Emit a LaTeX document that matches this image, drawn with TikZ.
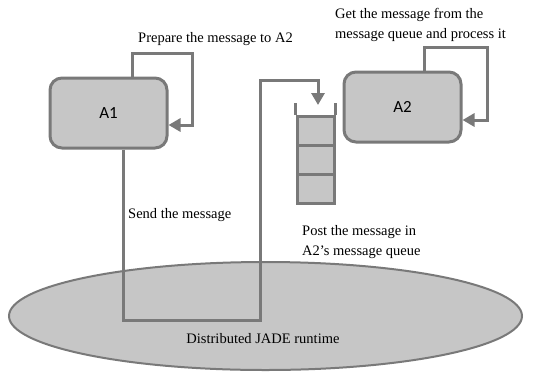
\documentclass[tikz,border=0pt]{standalone}
\usepackage{fontspec}
\setmainfont{Liberation Serif}
\newfontfamily\agentfont{Carlito}
\usetikzlibrary{arrows.meta,positioning,shapes.geometric,calc}

\begin{document}
\begin{tikzpicture}[x=1pt, y=-1pt,
    agent/.style={draw=gray!95!black, fill=gray!45, line width=3pt, rounded corners=12pt,
                  minimum width=117pt, minimum height=70pt, font=\agentfont\fontsize{17}{19}\selectfont},
    slot/.style={draw=gray!95!black, fill=gray!45, line width=3pt,
                 minimum width=37pt, minimum height=29pt, inner sep=0pt},
    conn/.style={draw=gray!95!black, line width=3pt},
    tip/.style={-{Triangle[length=12pt, width=13pt]}},
    note/.style={font=\fontsize{14.5}{20}\selectfont, align=left, inner sep=0pt}]
  \useasboundingbox (0,0) rectangle (536,373);

  % --- Runtime platform (drawn first, links run over it) ---
  \node[ellipse, draw=gray!95!black, fill=gray!45, line width=2pt,
        minimum width=513pt, minimum height=108pt] (runtime) at (265.5,316) {};
  \node[note] (rtlabel) at (263,339) {Distributed JADE runtime};

  % --- Agents ---
  \node[agent] (A1) at (108.5,113) {A1};
  \node[agent] (A2) at (402.5,107) {A2};

  % --- Message queue of A2 ---
  \node[slot] (q1) at (315.5,130.5) {};
  \node[slot, below=-3pt of q1] (q2) {};
  \node[slot, below=-3pt of q2] (q3) {};
  \draw[conn] (q1.north west) -- ++(0,-12);
  \draw[conn] (q1.north east) -- ++(0,-12);
  \coordinate (qin) at (318,105);

  % --- Links ---
  \draw[conn, tip] ([xshift=24pt]A1.north) |- (192,53) |- ([yshift=-12pt]A1.east);
  \draw[conn, tip] ([xshift=21.5pt]A2.north) |- (487,47) |- ([yshift=-13pt]A2.east);
  \draw[conn, tip] ([xshift=14.5pt]A1.south) |- (260,320) -- (260,80) -| (qin);

  % --- Labels ---
  \node[note, anchor=west] (prep) at (138,39) {Prepare the message to A2};
  \node[note, anchor=west] (get) at (335,25) {Get the message from the\\message queue and process it};
  \node[note, anchor=west] (send) at (128,215) {Send the message};
  \node[note, anchor=west] (post) at (302,242) {Post the message in\\A2's message queue};
\end{tikzpicture}
\end{document}
